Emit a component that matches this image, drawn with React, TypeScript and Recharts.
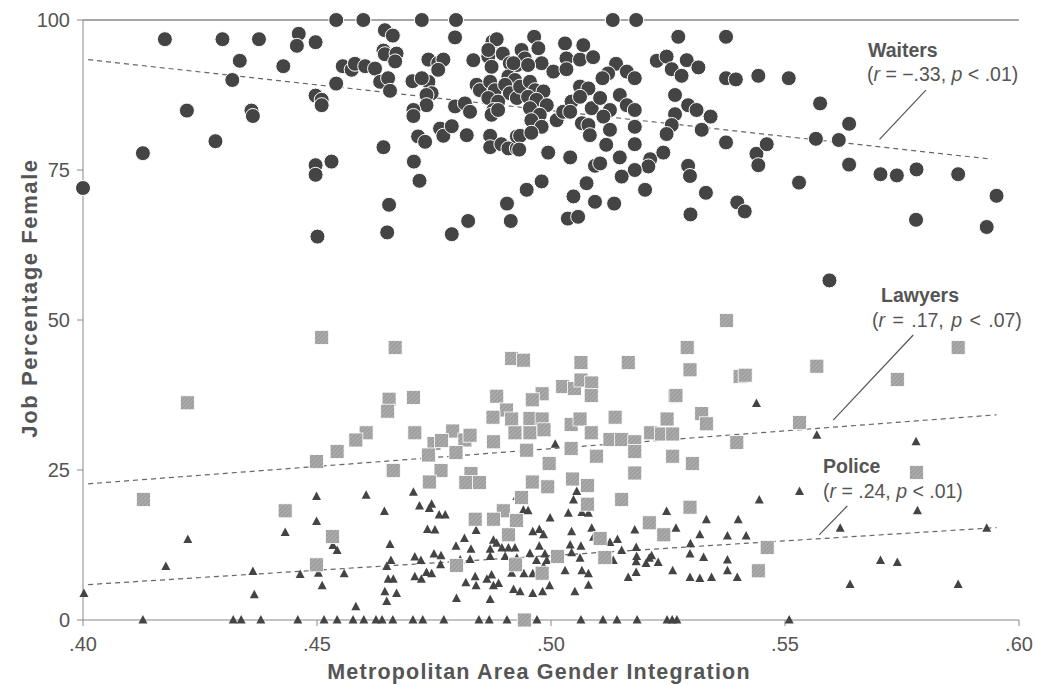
import { ScatterChart, Scatter, XAxis, YAxis, ReferenceLine } from 'recharts';

// Metropolitan area gender integration vs. job percentage female
const waiters: [number, number][] = [
  [0.4, 72], [0.4128, 77.8], [0.4175, 96.8], [0.4298, 96.8], [0.4376, 96.8], [0.4335, 93.2], [0.4222, 84.9],
  [0.4319, 90], [0.436, 84.9], [0.4363, 84], [0.4283, 79.8], [0.4428, 92.3], [0.4461, 97.7], [0.4457, 95.7],
  [0.4497, 96.3], [0.4497, 87.4], [0.451, 86.7], [0.451, 85.8], [0.4497, 75.8], [0.4497, 74.2], [0.4531, 76.4],
  [0.4501, 63.9], [0.4541, 100], [0.4599, 100], [0.4555, 92.3], [0.4574, 91.7], [0.4581, 92.7], [0.4603, 92.3],
  [0.4541, 89.4],
  [0.4724, 100], [0.4797, 100], [0.4645, 98.3], [0.4662, 97.4], [0.4795, 97.1], [0.4642, 94.9], [0.4645, 94.3],
  [0.467, 94.4], [0.4667, 93.1], [0.4624, 91.9], [0.4635, 89.7], [0.4652, 90.3], [0.4656, 88.2], [0.4704, 89.8],
  [0.4738, 93.4], [0.4759, 92.8], [0.477, 93.4], [0.4759, 91.7], [0.4738, 89.7], [0.4745, 87.8], [0.4734, 87.5],
  [0.4734, 85.8], [0.4724, 90.3], [0.4706, 85], [0.4706, 84], [0.4834, 93.3], [0.4716, 80.6], [0.4731, 79.7],
  [0.4763, 81.9], [0.477, 80.7], [0.4788, 82.3], [0.4795, 85.6], [0.4816, 86.1], [0.4827, 84.7], [0.482, 80.8],
  [0.4642, 78.8], [0.4707, 76.4], [0.4719, 73.2], [0.4654, 69.2], [0.465, 64.6], [0.4788, 64.3], [0.4823, 66.5],
  [0.4906, 69.4], [0.4914, 66.5],
  [0.4875, 96.4], [0.4884, 96.8], [0.4866, 93.9], [0.4866, 95], [0.4897, 94.4], [0.4873, 92.2], [0.4912, 92.8],
  [0.4927, 92.5], [0.4909, 90.6], [0.4923, 90], [0.4841, 89.2], [0.4848, 88.3], [0.487, 89.7], [0.488, 88.3],
  [0.4902, 89.2], [0.4912, 87.8], [0.4927, 87], [0.4866, 87], [0.4887, 86.4], [0.4877, 85], [0.4873, 84.2],
  [0.4887, 85], [0.487, 80.7], [0.487, 78.8], [0.4894, 79.3], [0.4909, 78.6], [0.4927, 78.6], [0.4927, 80.6],
  [0.5132, 100], [0.5182, 100], [0.4964, 97.2], [0.4973, 95.3], [0.4937, 95], [0.4944, 93.6], [0.492, 92.8],
  [0.498, 92.8], [0.4951, 92.5], [0.5005, 91.4], [0.503, 96.1], [0.5069, 95.8], [0.5033, 93.6], [0.5062, 93.4],
  [0.509, 93.8], [0.5033, 91.8], [0.5139, 92.7], [0.5122, 91.1], [0.511, 90.3], [0.5162, 91.4], [0.5179, 90.3],
  [0.5226, 93.2],
  [0.4934, 88.9], [0.4955, 89.7], [0.4966, 88.3], [0.4984, 88.1], [0.4951, 87.2], [0.4969, 86.7], [0.4991, 85.8],
  [0.4955, 85.3], [0.4976, 84.2], [0.4958, 83.3], [0.498, 82.2], [0.5012, 83.3], [0.5026, 84.7], [0.5044, 86.4],
  [0.5041, 84.7], [0.5062, 88.9], [0.508, 88.6], [0.5062, 87.2], [0.5087, 85.3], [0.5105, 87], [0.5126, 85],
  [0.5112, 83.9], [0.5066, 82.8], [0.508, 82.5], [0.5083, 80.8], [0.5147, 87.5], [0.5162, 85.8], [0.5179, 85],
  [0.5179, 82.2], [0.5126, 81.7],
  [0.4934, 80.7], [0.4932, 78.4], [0.4958, 81.2], [0.4994, 77.9], [0.5041, 77.1], [0.5118, 79.2], [0.5179, 79.3],
  [0.5094, 75.7], [0.5105, 76.1], [0.5147, 77.1], [0.5212, 76.8], [0.5208, 75.6], [0.5179, 75], [0.5151, 73.9],
  [0.498, 73.1], [0.4948, 71.7], [0.5076, 72.8], [0.5048, 70.6], [0.5094, 69.7], [0.5135, 69.4], [0.5201, 71.7],
  [0.5036, 66.9], [0.5058, 67.2],
  [0.5272, 97.2], [0.5374, 97.2], [0.5247, 93.9], [0.5258, 91.8], [0.5279, 90.7], [0.529, 93.3], [0.5315, 92.1],
  [0.5374, 90.3], [0.5395, 90.1], [0.5443, 90.7], [0.5508, 90.3], [0.5265, 87.5], [0.5293, 85.8], [0.5311, 85],
  [0.5265, 84.3], [0.5258, 82.5], [0.5247, 81], [0.524, 77.9], [0.5341, 83.9], [0.5322, 81.7], [0.5374, 79.6],
  [0.5293, 75.7], [0.5297, 74], [0.5331, 71.2], [0.5298, 67.6], [0.5398, 69.6], [0.5414, 68.1], [0.5439, 77.7],
  [0.5443, 75.8], [0.5461, 79.3], [0.553, 72.9], [0.5575, 86.1], [0.5566, 80.2], [0.5615, 80], [0.5637, 82.7],
  [0.5637, 75.9], [0.5704, 74.3], [0.5739, 74.1], [0.5781, 75.1], [0.587, 74.3], [0.578, 66.7], [0.5952, 70.7],
  [0.5931, 65.5], [0.5595, 56.6],
];

const lawyers: [number, number][] = [
  [0.451, 47.1], [0.4667, 45.4], [0.4223, 36.2], [0.4654, 36.8], [0.4651, 34.8], [0.4605, 31.2], [0.4583, 30],
  [0.4543, 28.1], [0.4499, 26.4], [0.4662, 25], [0.4129, 20.1], [0.4432, 18.2], [0.4533, 13.9], [0.4499, 9.2],
  [0.4916, 43.6], [0.4941, 43.3], [0.5064, 42.9], [0.5165, 42.9], [0.5025, 38.9], [0.505, 38.6], [0.5064, 40],
  [0.5087, 39.5], [0.5086, 37.4], [0.4706, 37.1], [0.4884, 37.3], [0.4981, 37.7], [0.496, 36.7], [0.5265, 37.3],
  [0.4905, 35], [0.4876, 33.8], [0.4916, 33.5], [0.4955, 33.6], [0.4981, 33.5], [0.5043, 32.6], [0.5062, 33.5],
  [0.5137, 33.8], [0.5248, 33.5], [0.4709, 31.2], [0.475, 29.4], [0.479, 31.5], [0.4816, 30], [0.4827, 30.8],
  [0.4877, 29.7], [0.4923, 31.2], [0.4955, 31.2], [0.4985, 31.7], [0.5086, 31.2], [0.5126, 30.1], [0.5151, 30.1],
  [0.5179, 29.7], [0.5213, 31.2], [0.5236, 31], [0.526, 31], [0.4738, 27.5], [0.4797, 27.9], [0.4948, 28.3],
  [0.5043, 28.6], [0.5097, 27.3], [0.5179, 28.1], [0.526, 27.3], [0.4663, 24.9], [0.4765, 24.9], [0.4996, 26.1],
  [0.4829, 24.4], [0.5179, 24.5], [0.474, 23], [0.4818, 22.9], [0.4847, 22.9], [0.496, 23], [0.4993, 22.2],
  [0.5046, 23.5], [0.5078, 22.4], [0.5151, 20.1], [0.4937, 20.4], [0.4898, 18.2], [0.5078, 19.3], [0.4838, 16.8],
  [0.4877, 16.8], [0.4926, 16.6], [0.4909, 14.2], [0.5105, 13.6], [0.5115, 10.4], [0.521, 16.2], [0.5241, 14.2],
  [0.5014, 10.6], [0.4924, 9.2], [0.4798, 9.1], [0.4981, 7.8], [0.4943, 0],
  [0.5375, 49.9], [0.5291, 45.4], [0.5297, 41.7], [0.5404, 40.6], [0.5415, 40.8], [0.5568, 42.3], [0.574, 40.1],
  [0.587, 45.4], [0.5267, 37.4], [0.5322, 34.4], [0.5332, 32.7], [0.5302, 26.1], [0.5397, 29.6], [0.5531, 32.9],
  [0.5781, 24.6], [0.5297, 18.8], [0.5462, 12.1], [0.5443, 8.2], [0.4766, 29.9],
];

const policeAtZero: number[] = [
  0.4128, 0.4321, 0.4338, 0.438, 0.4459, 0.4515, 0.4543, 0.4577, 0.46, 0.4626, 0.4639, 0.4662, 0.4705, 0.4726,
  0.4771, 0.4846, 0.4868, 0.4906, 0.497, 0.5064, 0.5111, 0.5141, 0.5184, 0.5248, 0.5259, 0.5269, 0.5509,
];

const police: [number, number][] = [
  [0.4002, 4.4], [0.4224, 13.4], [0.4177, 8.9], [0.4363, 8.1], [0.4366, 4.2], [0.4432, 14.6], [0.4499, 20.6],
  [0.4499, 16.4], [0.4464, 7.6], [0.4503, 7.8], [0.4511, 5.7], [0.4534, 12.4], [0.4543, 11.6], [0.4558, 7.7],
  [0.4583, 2.2], [0.4605, 20.8], [0.4644, 18.1], [0.4656, 12.6], [0.4658, 9.9], [0.4649, 8.9], [0.4652, 6.8],
  [0.4663, 6.8], [0.4645, 4.7], [0.4649, 3.1], [0.467, 4.4],
  [0.4706, 21.3], [0.4719, 19], [0.474, 18.6], [0.4745, 19.3], [0.4761, 17.5], [0.4774, 17.5], [0.4736, 15.1],
  [0.4752, 15], [0.4709, 10.5], [0.4722, 9.9], [0.475, 11], [0.4765, 10.7], [0.4764, 9.2], [0.4709, 7.2],
  [0.4723, 6.8], [0.4734, 7.9], [0.4745, 7.7],
  [0.4797, 12.3], [0.4815, 13.6], [0.4829, 11.8], [0.484, 14.9], [0.4827, 10.1], [0.4797, 9], [0.4806, 10],
  [0.4818, 6.2], [0.484, 5.7], [0.4838, 7.2], [0.4863, 6.8], [0.4873, 7.5], [0.4888, 6.1], [0.4877, 5.7],
  [0.4798, 3.6], [0.487, 3.4],
  [0.4877, 13.3], [0.4884, 12.8], [0.4895, 12], [0.4909, 12], [0.4923, 12], [0.4902, 10.6], [0.487, 11.8],
  [0.487, 10.6], [0.4927, 10.3], [0.4916, 7.8], [0.492, 5.1], [0.4927, 20.6],
  [0.4941, 18.3], [0.4951, 18.2], [0.4998, 17], [0.4961, 14.7], [0.4975, 15.1], [0.4984, 14.2], [0.4975, 12.3],
  [0.4955, 11.1], [0.4987, 11], [0.4969, 9.9], [0.4991, 9.9], [0.4942, 7.7], [0.4961, 7.7], [0.4984, 8.9],
  [0.4997, 5.7], [0.4982, 4.7], [0.4961, 4.4], [0.4934, 4.7], [0.5009, 29.3],
  [0.5055, 21.4], [0.5048, 20], [0.5037, 17.8], [0.5066, 17.9], [0.508, 17.8], [0.5087, 15.3], [0.5044, 14.7],
  [0.5041, 12.5], [0.5064, 12.3], [0.5091, 13.8], [0.5044, 11.2], [0.503, 8.2], [0.5066, 8.2], [0.508, 7.7],
  [0.508, 5.8], [0.5051, 4.7], [0.5062, 10.3],
  [0.5126, 12.9], [0.5142, 13.4], [0.5151, 11.6], [0.5133, 9.9], [0.5165, 7.1], [0.5182, 7.9], [0.5179, 15],
  [0.5182, 12.1], [0.5183, 10.6], [0.5182, 9.7], [0.521, 10.3], [0.5203, 9.4], [0.5229, 9.6], [0.526, 8.2],
  [0.5247, 18.1], [0.5267, 15.3], [0.5215, 10.7],
  [0.5439, 36.1], [0.5568, 30.8], [0.578, 29.7], [0.5445, 20], [0.5531, 21.4], [0.5783, 18.2], [0.5618, 15.3],
  [0.5931, 15.3], [0.5332, 16.7], [0.54, 16.7], [0.5318, 14.2], [0.5377, 14], [0.5417, 14], [0.5298, 12.7],
  [0.5297, 11], [0.5326, 10.4], [0.5377, 10], [0.5377, 8.2], [0.5297, 7.1], [0.5318, 6.9], [0.5343, 7.1],
  [0.5398, 7.1], [0.5704, 9.9], [0.574, 9.6], [0.5639, 5.9], [0.587, 5.9],
];

// fitted lines (start, end)
const waitersTrend = [{ x: 0.4011, y: 93.4 }, { x: 0.5942, y: 76.8 }];
const lawyersTrend = [{ x: 0.4011, y: 22.7 }, { x: 0.5952, y: 34.2 }];
const policeTrend = [{ x: 0.4011, y: 5.9 }, { x: 0.5952, y: 15.4 }];

// callout leaders from labels to fitted lines
const waitersLeader = [{ x: 0.5801, y: 88.3 }, { x: 0.5702, y: 80.1 }];
const lawyersLeader = [{ x: 0.5774, y: 47.5 }, { x: 0.5603, y: 33.3 }];
const policeLeader = [{ x: 0.5633, y: 19 }, { x: 0.5573, y: 14.2 }];

const xTicks = [0.4, 0.45, 0.5, 0.55, 0.6];
const yTicks = [0, 25, 50, 75, 100];

const FONT = '"Liberation Sans", Arial, Helvetica, sans-serif';
const INK = '#555';

const toPts = (arr: [number, number][]) => arr.map(([x, y]) => ({ x, y }));

const Circle = (p: any) => (
  <circle cx={p.cx} cy={p.cy} r={7.5} fill="#444" stroke="#fff" strokeWidth={1} />
);
const Square = (p: any) => (
  <rect x={p.cx - 7} y={p.cy - 7} width={14} height={14} fill="url(#hatch)" stroke="#fff" strokeWidth={0.8} />
);
const Triangle = (p: any) => (
  <polygon
    points={`${p.cx},${p.cy - 5} ${p.cx - 4.5},${p.cy + 3.5} ${p.cx + 4.5},${p.cy + 3.5}`}
    fill="#444"
  />
);

export default function App() {
  const policePts = [...policeAtZero.map((x) => ({ x, y: 0 })), ...toPts(police)];

  return (
    <div style={{ position: 'absolute', left: 0, top: 0, width: 1037, height: 686, background: '#fff' }}>
      <svg width={0} height={0} style={{ position: 'absolute' }}>
        <defs>
          <pattern id="hatch" width={3} height={3} patternUnits="userSpaceOnUse" patternTransform="rotate(45)">
            <rect width={3} height={3} fill="#ababab" />
            <line x1={0} y1={0} x2={0} y2={3} stroke="#8a8a8a" strokeWidth={1.2} />
          </pattern>
        </defs>
      </svg>
      <ScatterChart width={1037} height={686} margin={{ top: 20, right: 18, bottom: 0, left: 0 }}>
        <XAxis
          type="number"
          dataKey="x"
          domain={[0.4, 0.6]}
          ticks={xTicks}
          tickFormatter={(v: number) => v.toFixed(2).replace(/^0/, '')}
          height={66}
          stroke="#888"
          tickSize={6}
          tickMargin={11}
          tick={{ fill: INK, fontSize: 20, fontFamily: FONT }}
        />
        <YAxis
          type="number"
          dataKey="y"
          domain={[0, 100]}
          ticks={yTicks}
          width={83}
          stroke="#888"
          tickSize={6}
          tickMargin={7}
          tick={{ fill: INK, fontSize: 20, fontFamily: FONT }}
        />
        <ReferenceLine y={100} stroke="#888" strokeWidth={1.3} />
        <Scatter data={policePts} shape={Triangle} isAnimationActive={false} />
        <Scatter data={toPts(lawyers)} shape={Square} isAnimationActive={false} />
        <Scatter data={toPts(waiters)} shape={Circle} isAnimationActive={false} />
        <ReferenceLine segment={waitersTrend} stroke="#666" strokeWidth={1.2} strokeDasharray="5 4" />
        <ReferenceLine segment={lawyersTrend} stroke="#666" strokeWidth={1.2} strokeDasharray="5 4" />
        <ReferenceLine segment={policeTrend} stroke="#666" strokeWidth={1.2} strokeDasharray="5 4" />
        <ReferenceLine segment={waitersLeader} stroke="#555" strokeWidth={1.2} />
        <ReferenceLine segment={lawyersLeader} stroke="#555" strokeWidth={1.2} />
        <ReferenceLine segment={policeLeader} stroke="#555" strokeWidth={1.2} />
      </ScatterChart>
      <svg
        width={1037}
        height={686}
        style={{ position: 'absolute', left: 0, top: 0, pointerEvents: 'none' }}
        fontFamily={FONT}
        fill={INK}
      >
        <text x={868} y={57} fontSize={19.5} fontWeight="bold">Waiters</text>
        <text x={867} y={81} fontSize={19.5}>
          (<tspan fontStyle="italic">r</tspan> = −.33, <tspan fontStyle="italic">p</tspan> &lt; .01)
        </text>
        <text x={881} y={302} fontSize={19.5} fontWeight="bold">Lawyers</text>
        <text x={872} y={327} fontSize={19.5} wordSpacing={2}>
          (<tspan fontStyle="italic">r</tspan> = .17, <tspan fontStyle="italic">p</tspan> &lt; .07)
        </text>
        <text x={823} y={473} fontSize={19.5} fontWeight="bold">Police</text>
        <text x={823} y={498} fontSize={19.5}>
          (<tspan fontStyle="italic">r</tspan> = .24, <tspan fontStyle="italic">p</tspan> &lt; .01)
        </text>
        <text x={539} y={679} fontSize={21.5} fontWeight="bold" textAnchor="middle" letterSpacing={1.2}>
          Metropolitan Area Gender Integration
        </text>
        <text
          transform="translate(37,298) rotate(-90)"
          fontSize={22}
          fontWeight="bold"
          textAnchor="middle"
          letterSpacing={1.6}
        >
          Job Percentage Female
        </text>
      </svg>
    </div>
  );
}
